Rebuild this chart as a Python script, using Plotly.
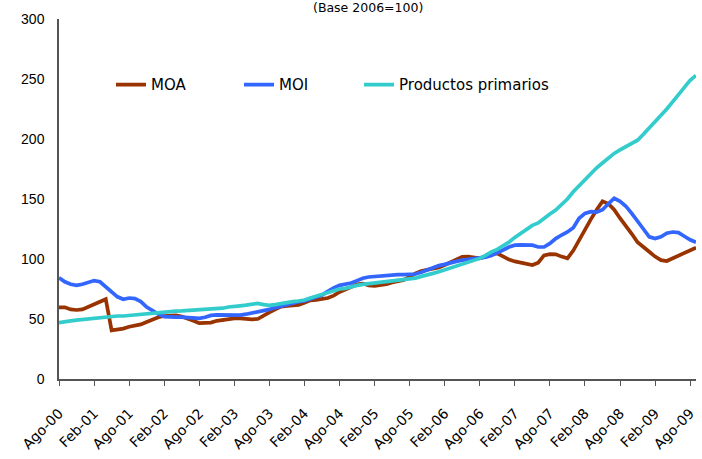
import plotly.graph_objects as go

MESES = ["Ene", "Feb", "Mar", "Abr", "May", "Jun", "Jul", "Ago", "Sep", "Oct", "Nov", "Dic"]
# Monthly periods from Ago-00 to Sep-09
periods = []
y, m = 2000, 7
for _ in range(110):
    periods.append(f"{MESES[m]}-{y % 100:02d}")
    m += 1
    if m == 12:
        m = 0
        y += 1

tick_labels = ["Ago-00", "Feb-01", "Ago-01", "Feb-02", "Ago-02", "Feb-03", "Ago-03", "Feb-04",
               "Ago-04", "Feb-05", "Ago-05", "Feb-06", "Ago-06", "Feb-07", "Ago-07", "Feb-08",
               "Ago-08", "Feb-09", "Ago-09"]

moa = [59.7, 59.7, 58, 57.5, 58, 60, 62.5, 64.5, 66.5, 40.5,
       41, 42, 43.5, 44.5, 45.5, 47.5, 49.5, 51.5, 52.5, 53,
       53, 52, 50.5, 48.5, 46.5, 46.4, 47, 48.5, 49.2, 49.5,
       50.5, 50.5, 50, 49.7, 50, 53, 55.5, 58, 60.3, 61,
       61.5, 61.7, 63.5, 65.5, 66, 66.5, 67.5, 69.5, 72.5, 74.5,
       77, 79, 79.5, 78, 77.5, 78, 79, 80.5, 81.5, 82.5,
       85, 88, 90, 91, 92.5, 93, 95, 97.5, 100, 101.9,
       102, 101, 100.6, 102, 104, 104.7, 102, 99.5, 98, 97,
       95.5, 95, 97, 103, 104, 103.9, 102, 100.6, 107, 116,
       125, 133, 141, 148, 146, 141, 134, 128, 121, 114,
       109.5, 106, 102, 99, 98.3, 100.5, 102.5, 105, 107.5, 109.5]

moi = [84.4, 81, 79, 78, 79, 80.5, 82, 81, 77, 72,
       68.5, 66.5, 67.5, 67, 64.5, 60, 57, 54, 52, 51.5,
       51.5, 51.5, 51, 50.5, 50.5, 51.5, 53, 53.5, 53.3, 53,
       53, 53.3, 54, 55, 56, 56.7, 58, 59.5, 60.8, 62,
       63.5, 64.5, 65, 66.5, 68, 70, 73, 76, 78, 79,
       80, 82, 84, 85, 85.5, 86, 86.5, 86.5, 87, 87,
       87, 87.5, 89, 91, 93, 94.5, 95.5, 97, 98, 99,
       99.5, 100, 100.6, 101.5, 103, 105, 107.5, 110, 111.5, 111.7,
       111.7, 111.5, 110, 110, 113, 117, 120, 122.5, 126, 134,
       138, 139.4, 139, 141, 146, 150.6, 148, 144, 138, 132,
       125, 118.5, 117, 118.5, 121.5, 122.5, 122, 119, 116, 114]

primarios = [47, 48, 48.5, 49, 49.5, 50, 51, 51, 51.5, 52,
             52.5, 52.5, 53, 53.5, 54, 54.5, 55, 55.5, 55.5, 56,
             56.5, 56.7, 57, 57.5, 57.5, 58, 58.3, 58.5, 59, 60,
             60.8, 61, 61.5, 62.5, 63, 62, 61.3, 62, 63, 64,
             64.5, 65, 65.8, 67.5, 69, 70.5, 72, 73.5, 75, 75.5,
             77, 78, 78.9, 79.5, 80, 80.5, 81, 81.5, 82, 83,
             83.5, 84, 85.5, 86.5, 88, 89.4, 91, 92.5, 94, 96,
             97.5, 99, 100.5, 103, 106, 108, 111, 114, 118, 121.5,
             125, 128, 130, 134, 137.5, 140.8, 145, 150, 156, 161,
             167, 172, 176, 180, 184, 188, 191, 193.6, 196, 199,
             204, 209, 214, 219, 225, 231, 237, 243, 249, 253]

y_ticks = [0, 50, 100, 150, 200, 250, 300]

fig = go.Figure()
series = [("MOA", moa, "#993300", "legend", 0.0816),
          ("MOI", moi, "#3366FF", "legend2", 0.2826),
          ("Productos primarios", primarios, "#33CCCC", "legend3", 0.471)]
legend_cfg = {}
for name, vals, col, lg, lx in series:
    fig.add_trace(go.Scatter(x=periods, y=vals, name=name, mode="lines", legend=lg,
                             line=dict(color=col, width=3.7)))
    legend_cfg[lg] = dict(x=lx, y=0.817, xanchor="left", yanchor="middle",
                          font=dict(size=15, family="DejaVu Sans", color="#000000"),
                          bgcolor="rgba(0,0,0,0)", itemwidth=30)

fig.update_layout(
    width=702, height=459,
    margin=dict(l=59, r=6, t=19, b=80, autoexpand=False),
    paper_bgcolor="white", plot_bgcolor="white",
    font=dict(family="DejaVu Sans", color="#000000"),
    showlegend=True,
    annotations=[dict(text="(Base 2006=100)", xref="paper", yref="paper", x=0.485, y=1.032,
                      xanchor="center", yanchor="middle", showarrow=False,
                      font=dict(size=12.5, family="DejaVu Sans"))],
    **legend_cfg,
)
fig.update_xaxes(type="category", range=[0, 109], tickvals=tick_labels, ticktext=tick_labels,
                 tickangle=-45, ticks="outside", ticklen=5, tickcolor="#555555",
                 showline=True, linecolor="#555555", linewidth=1.5, showgrid=False,
                 automargin=False, ticklabelstandoff=14,
                 tickfont=dict(size=14, family="DejaVu Sans"))
fig.update_yaxes(range=[0, 300], tickvals=y_ticks, showline=True, linecolor="#555555",
                 linewidth=1.5, showgrid=False, zeroline=False, ticks="",
                 ticklabelstandoff=10, automargin=False,
                 tickfont=dict(size=14, family="Liberation Sans"))

fig.write_html("out.html", config={"displayModeBar": False},
               post_script="document.body.style.margin='0px';")
